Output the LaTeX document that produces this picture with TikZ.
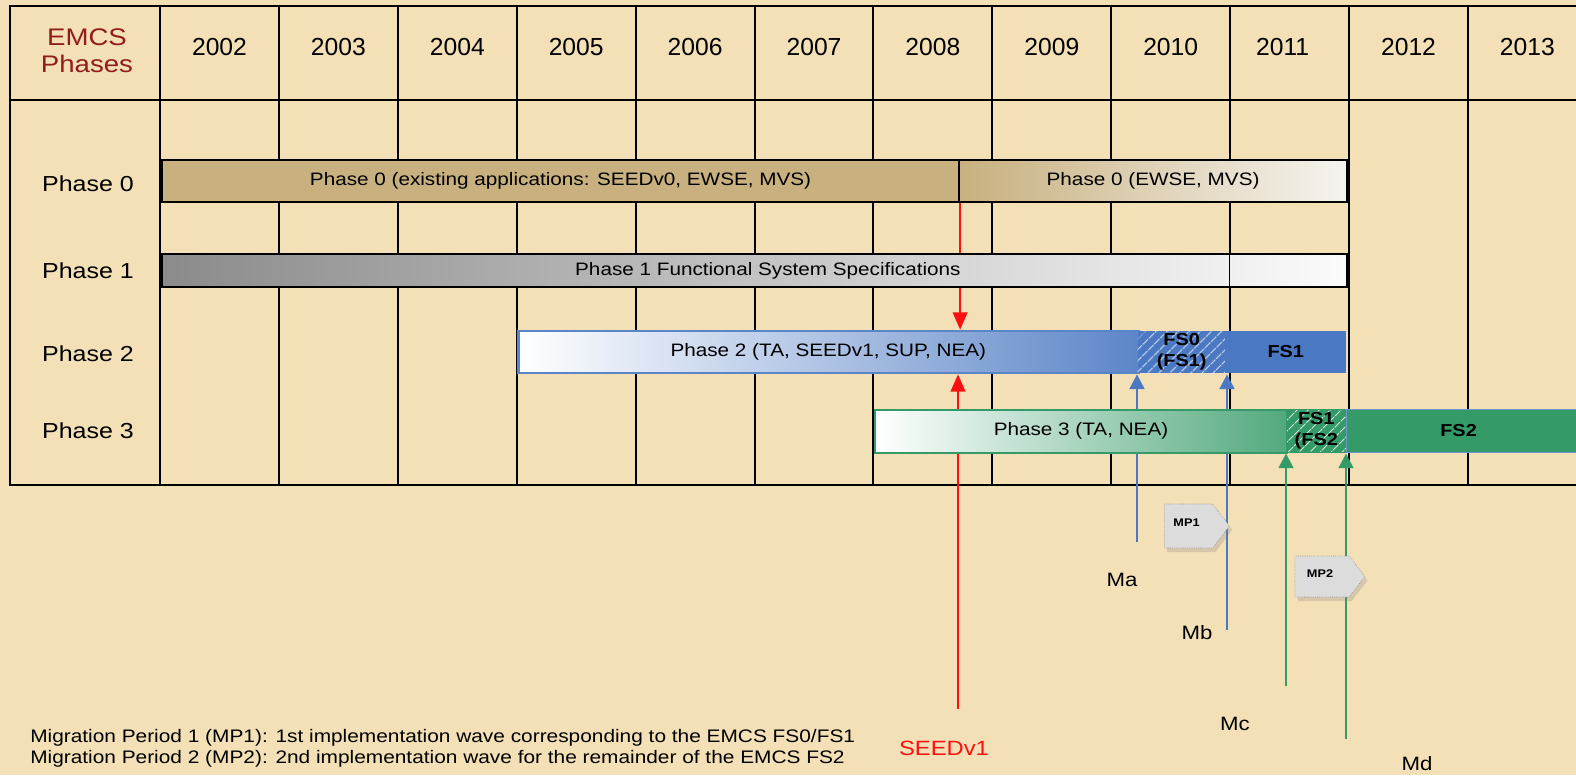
\documentclass[tikz,border=0pt]{standalone}
\usepackage{fontspec}
\setmainfont[FakeStretch=1.15]{Liberation Sans}
\newfontfamily\yearfont{Liberation Sans}
\usetikzlibrary{arrows.meta,positioning,shapes.symbols,patterns.meta,shadows,calc}
\definecolor{Bg}{HTML}{F4E0B7}
\definecolor{DarkRed}{HTML}{921C1C}
\definecolor{PhTan}{HTML}{C8B07F}
\definecolor{PhLight}{HTML}{F6F4F0}
\definecolor{PhGray}{HTML}{8B8B8B}
\definecolor{PhBlue}{HTML}{4A78C2}
\definecolor{PhGreen}{HTML}{349A67}
\definecolor{MpGray}{HTML}{DCDCDC}
\definecolor{SeedRed}{HTML}{FF1010}
\newcommand{\pxu}{0.75pt}

\begin{document}
\begin{tikzpicture}[x=0.75pt,y=-0.75pt,
  gridline/.style={line width=1.5pt,black},
  yearlabel/.style={font=\yearfont\fontsize{18.5}{20}\selectfont},
  phaselabel/.style={font=\fontsize{16.3}{20}\selectfont},
  bar/.style={anchor=west,inner sep=0pt,font=\fontsize{13.5}{16}\selectfont},
  fsbox/.style={bar,font=\fontsize{13}{15.5}\selectfont\bfseries,align=center},
  hatch/.style={preaction={fill=#1},pattern={Lines[angle=45,distance=6.5pt,line width=1pt]},pattern color=white!75!#1},
  mlabel/.style={font=\fontsize{14.5}{17}\selectfont},
  upblue/.style={line width=2pt,PhBlue,-{Triangle[length=11pt,width=11pt]}},
  upgreen/.style={line width=2pt,PhGreen,-{Triangle[length=11pt,width=11pt]}},
  seedarrow/.style={line width=1.5pt,SeedRed,-{Triangle[length=13pt,width=11pt]}},
  mpbox/.style={signal,signal to=east,signal pointer angle=105,fill=MpGray,draw=gray,densely dotted,
    minimum width=65*\pxu,minimum height=44*\pxu,inner sep=0pt,
    drop shadow={opacity=0.25,shadow xshift=2pt,shadow yshift=-3pt},
    font=\fontsize{8.3}{9}\selectfont\bfseries}]
  \useasboundingbox (0,0) rectangle (1576,775);
  \fill[Bg] (0,0) rectangle (1576,775);

  % table
  \draw[gridline] (1576,6) -- (10,6) -- (10,485) -- (1576,485);
  \draw[gridline] (10,99.5) -- (1576,99.5);
  \foreach \k in {0,...,11}
    \draw[gridline] ({160+118.9*\k},6) -- ({160+118.9*\k},485);
  \node[DarkRed,align=center,font=\fontsize{18}{20}\selectfont] (hdr) at (87,51) {EMCS\\Phases};
  \foreach \yr/\dx [count=\i from 0] in {2002/0,2003/0,2004/0,2005/0,2006/0,2007/0,2008/0,2009/0,2010/0,2011/-7,2012/0,2013/0}
    \node[yearlabel] (y\yr) at ({219.5+118.9*\i+\dx},47) {\yr};

  \node[phaselabel] (l0) at (88,184) {Phase 0};
  \node[phaselabel] (l1) at (88,271) {Phase 1};
  \node[phaselabel] (l2) at (88,354) {Phase 2};
  \node[phaselabel] (l3) at (88,431) {Phase 3};

  % phase 0 and phase 2
  \node[bar,fill=PhTan,draw=black,line width=1.6pt,minimum width=797*\pxu,minimum height=42*\pxu] (p0a) at (161,181)
    {Phase 0 (existing applications: SEEDv0, EWSE, MVS)};
  \node[bar,left color=PhTan,right color=PhLight,draw=black,line width=1.6pt,minimum width=388*\pxu,minimum height=42*\pxu] (p0b) at (958,181)
    {Phase 0 (EWSE, MVS)};
  \node[bar,left color=white,middle color=PhBlue!30,right color=PhBlue!90,draw=PhBlue!90,line width=2pt,minimum width=620*\pxu,minimum height=42*\pxu] (p2) at (517,352)
    {Phase 2 (TA, SEEDv1, SUP, NEA)};
  \node[fsbox,hatch=PhBlue,minimum width=88*\pxu,minimum height=42*\pxu] (fs0) at (1137,352) {FS0\\(FS1)};
  \node[fsbox,fill=PhBlue,minimum width=121*\pxu,minimum height=42*\pxu] (fs1) at (1225,352) {FS1};

  % SEEDv1 and Ma/Mb
  \draw[seedarrow] (p0a.south east) -- (p0a.south east |- p2.north);
  \coordinate (seedend) at (958,709);
  \draw[seedarrow] (seedend) -- (seedend |- p2.south);
  \node[SeedRed,font=\fontsize{15.5}{17}\selectfont] (seed) at (944,748) {SEEDv1};
  \coordinate (maend) at (1137,542);
  \coordinate (mbend) at (1227,630);
  \draw[upblue] (maend) -- (maend |- p2.south);
  \draw[upblue] (mbend) -- (mbend |- p2.south);
  \node[mlabel] (ma) at (1122,580) {Ma};
  \node[mlabel] (mb) at (1197,633) {Mb};

  % phase 1 and phase 3
  \node[bar,left color=PhGray,right color=white!97!gray,draw=black,line width=1.6pt,minimum width=1185*\pxu,minimum height=33*\pxu] (p1) at (161,270.5)
    {\hspace*{20pt}Phase 1 Functional System Specifications};
  \draw[line width=1.2pt] (1229.5,254) -- (1229.5,287);
  \node[bar,left color=white,middle color=PhGreen!25,right color=PhGreen!85,draw=PhGreen,line width=1.5pt,minimum width=412*\pxu,minimum height=43*\pxu] (p3) at (874,431)
    {Phase 3 (TA, NEA)};
  \node[fsbox,hatch=PhGreen,draw=PhGreen,minimum width=60*\pxu,minimum height=43*\pxu] (fs1b) at (1286,431) {FS1\\(FS2};
  \node[fsbox,fill=PhGreen,draw=PhBlue!80,line width=0.8pt,minimum width=240*\pxu,minimum height=43*\pxu] (fs2) at (1346,431) {\hspace*{-12pt}FS2};

  % Mc/Md
  \coordinate (mcend) at (1286,686);
  \coordinate (mdend) at (1346,739);
  \draw[upgreen] (mcend) -- (mcend |- p3.south);
  \draw[upgreen] (mdend) -- (mdend |- p3.south);
  \node[mlabel] (mc) at (1235,724) {Mc};
  \node[mlabel] (md) at (1417,764) {Md};

  % migration periods
  \node[mpbox] (mp1) at (1188.5,526) {\raisebox{5pt}{MP1}\hspace*{3pt}};
  \node[mpbox,minimum width=70*\pxu,minimum height=41*\pxu] (mp2) at (1322,576.5) {\raisebox{5pt}{MP2}\hspace*{3pt}};

  \node[anchor=west,align=left,inner sep=0pt,font=\fontsize{13.6}{15.75}\selectfont] (legend) at (30,748.5)
    {Migration Period 1 (MP1): 1st implementation wave corresponding to the EMCS FS0/FS1\\
     Migration Period 2 (MP2): 2nd implementation wave for the remainder of the EMCS FS2};
\end{tikzpicture}
\end{document}
